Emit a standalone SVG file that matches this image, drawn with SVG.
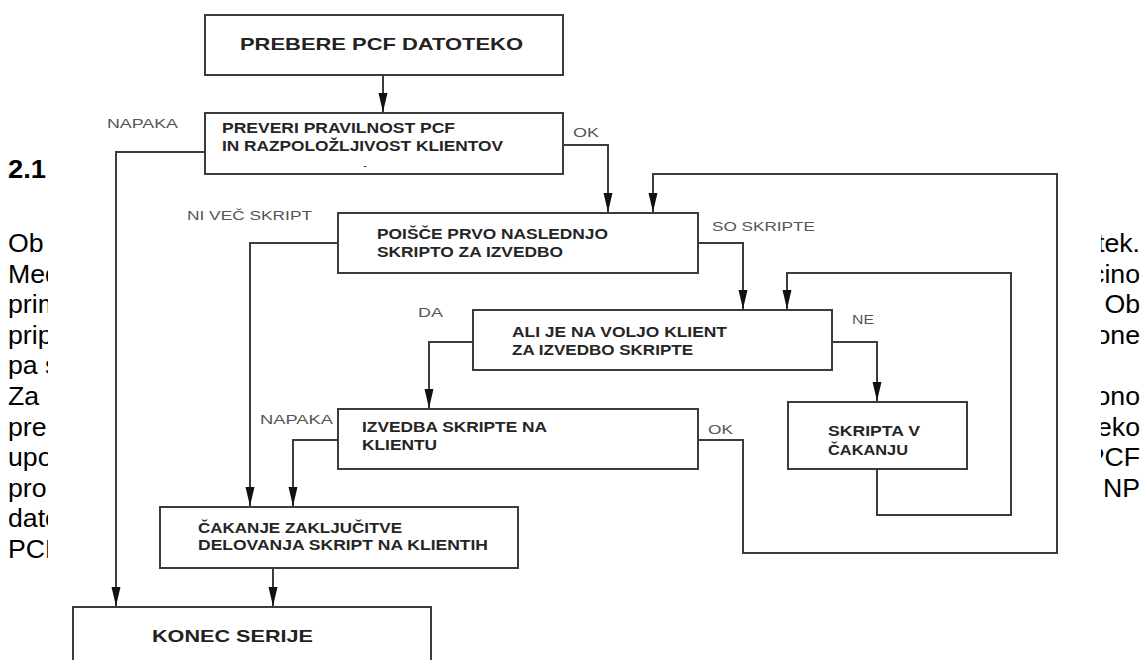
<svg xmlns="http://www.w3.org/2000/svg" width="1144" height="660" viewBox="0 0 1144 660">
<style>
.bg{fill:#fff}
.doc{font-family:"Liberation Sans",Arial,sans-serif;font-size:26.7px;fill:#000}
.h{font-family:"Liberation Sans",Arial,sans-serif;font-size:26px;font-weight:bold;fill:#000}
.box{fill:#fff;stroke:#3c3c3c;stroke-width:2}
.bt{font-family:"Liberation Sans",Arial,sans-serif;font-size:14px;font-weight:bold;fill:#252525}
.bt1{font-family:"Liberation Sans",Arial,sans-serif;font-size:16.5px;font-weight:bold;fill:#222}
.lb{font-family:"Liberation Sans",Arial,sans-serif;font-size:12.5px;fill:#555}
.ln{fill:none;stroke:#3c3c3c;stroke-width:2}
</style>
<defs>
<marker id="arr" markerWidth="20" markerHeight="10" refX="19" refY="5" orient="auto" markerUnits="userSpaceOnUse" viewBox="0 0 20 10">
<path d="M0,0.5 L19,5 L0,9.5 Z" fill="#111"/>
</marker>
<clipPath id="cl"><rect x="0" y="0" width="48" height="660"/></clipPath>
<clipPath id="cr"><rect x="1101" y="0" width="43" height="660"/></clipPath>
</defs>
<rect class="bg" x="0" y="0" width="1144" height="660"/>
<g id="doc-left" clip-path="url(#cl)">
<text class="h" x="8" y="178" textLength="38" lengthAdjust="spacingAndGlyphs">2.1</text>
<text class="doc" x="8" y="252">Ob</text>
<text class="doc" x="8" y="282.6">Med</text>
<text class="doc" x="8" y="313.2">prim</text>
<text class="doc" x="8" y="343.8">pripr</text>
<text class="doc" x="8" y="374.4">pa s</text>
<text class="doc" x="8" y="405">Za</text>
<text class="doc" x="8" y="435.6">pre</text>
<text class="doc" x="8" y="466.2">upo</text>
<text class="doc" x="8" y="496.8">pro</text>
<text class="doc" x="8" y="527.4">dato</text>
<text class="doc" x="8" y="558">PCF</text>
</g>
<g id="doc-right" clip-path="url(#cr)">
<text class="doc" x="1140" y="252" text-anchor="end">atek.</text>
<text class="doc" x="1140" y="282.6" text-anchor="end">cino</text>
<text class="doc" x="1140" y="313.2" text-anchor="end">Ob</text>
<text class="doc" x="1140" y="343.8" text-anchor="end">one</text>
<text class="doc" x="1140" y="405" text-anchor="end">ono</text>
<text class="doc" x="1140" y="435.6" text-anchor="end">eko</text>
<text class="doc" x="1140" y="466.2" text-anchor="end">PCF</text>
<text class="doc" x="1140" y="496.8" text-anchor="end">NP</text>
</g>
<g id="connectors">
<path class="ln" d="M383,75 V112" marker-end="url(#arr)"/>
<path class="ln" d="M205,152 H116 V606" marker-end="url(#arr)"/>
<path class="ln" d="M563,145 H608 V212" marker-end="url(#arr)"/>
<path class="ln" d="M698,440 H743 V553 H1057 V174 H653 V212" marker-end="url(#arr)"/>
<path class="ln" d="M338,243 H250 V506" marker-end="url(#arr)"/>
<path class="ln" d="M698,243 H743 V309" marker-end="url(#arr)"/>
<path class="ln" d="M473,342 H429 V408" marker-end="url(#arr)"/>
<path class="ln" d="M832,342 H877 V401" marker-end="url(#arr)"/>
<path class="ln" d="M877,469 V515 H1011 V273 H787 V309" marker-end="url(#arr)"/>
<path class="ln" d="M338,440 H293 V506" marker-end="url(#arr)"/>
<path class="ln" d="M273,568 V606" marker-end="url(#arr)"/>
<text class="lb" x="107" y="128" textLength="71" lengthAdjust="spacingAndGlyphs">NAPAKA</text>
<text class="lb" x="573" y="137" textLength="26" lengthAdjust="spacingAndGlyphs">OK</text>
<text class="lb" x="187" y="220" textLength="125" lengthAdjust="spacingAndGlyphs">NI VEČ SKRIPT</text>
<text class="lb" x="712" y="231" textLength="103" lengthAdjust="spacingAndGlyphs">SO SKRIPTE</text>
<text class="lb" x="418" y="317" textLength="25" lengthAdjust="spacingAndGlyphs">DA</text>
<text class="lb" x="852" y="324" textLength="22" lengthAdjust="spacingAndGlyphs">NE</text>
<text class="lb" x="260" y="424" textLength="73" lengthAdjust="spacingAndGlyphs">NAPAKA</text>
<text class="lb" x="708" y="434" textLength="25" lengthAdjust="spacingAndGlyphs">OK</text>
</g>
<g id="n-prebere">
<rect class="box" x="205" y="15" width="358" height="60"/>
<text class="bt1" x="240" y="50" textLength="283" lengthAdjust="spacingAndGlyphs">PREBERE PCF DATOTEKO</text>
</g>
<g id="n-preveri">
<rect class="box" x="205" y="113" width="358" height="61"/>
<text class="bt" x="222" y="133" textLength="233" lengthAdjust="spacingAndGlyphs">PREVERI PRAVILNOST PCF</text>
<text class="bt" x="222" y="151" textLength="281" lengthAdjust="spacingAndGlyphs">IN RAZPOLOŽLJIVOST KLIENTOV</text>
<text class="lb" x="363" y="170">-</text>
</g>
<g id="n-poisce">
<rect class="box" x="338" y="213" width="360" height="60"/>
<text class="bt" x="377" y="239" textLength="231" lengthAdjust="spacingAndGlyphs">POIŠČE PRVO NASLEDNJO</text>
<text class="bt" x="377" y="257" textLength="186" lengthAdjust="spacingAndGlyphs">SKRIPTO ZA IZVEDBO</text>
</g>
<g id="n-ali">
<rect class="box" x="473" y="310" width="359" height="60"/>
<text class="bt" x="512" y="337" textLength="215" lengthAdjust="spacingAndGlyphs">ALI JE NA VOLJO KLIENT</text>
<text class="bt" x="512" y="355" textLength="181" lengthAdjust="spacingAndGlyphs">ZA IZVEDBO SKRIPTE</text>
</g>
<g id="n-izvedba">
<rect class="box" x="338" y="409" width="360" height="60"/>
<text class="bt" x="362" y="432" textLength="185" lengthAdjust="spacingAndGlyphs">IZVEDBA SKRIPTE NA</text>
<text class="bt" x="362" y="450" textLength="75" lengthAdjust="spacingAndGlyphs">KLIENTU</text>
</g>
<g id="n-skripta">
<rect class="box" x="788" y="402" width="179" height="67"/>
<text class="bt" x="828" y="436" textLength="92" lengthAdjust="spacingAndGlyphs">SKRIPTA V</text>
<text class="bt" x="828" y="455" textLength="80" lengthAdjust="spacingAndGlyphs">ČAKANJU</text>
</g>
<g id="n-cakanje">
<rect class="box" x="160" y="507" width="358" height="61"/>
<text class="bt" x="198" y="533" textLength="204" lengthAdjust="spacingAndGlyphs">ČAKANJE ZAKLJUČITVE</text>
<text class="bt" x="198" y="550" textLength="290" lengthAdjust="spacingAndGlyphs">DELOVANJA SKRIPT NA KLIENTIH</text>
</g>
<g id="n-konec">
<rect class="box" x="73" y="607" width="358" height="70"/>
<text class="bt1" x="152" y="642" font-size="19" textLength="161" lengthAdjust="spacingAndGlyphs">KONEC SERIJE</text>
</g>
</svg>
